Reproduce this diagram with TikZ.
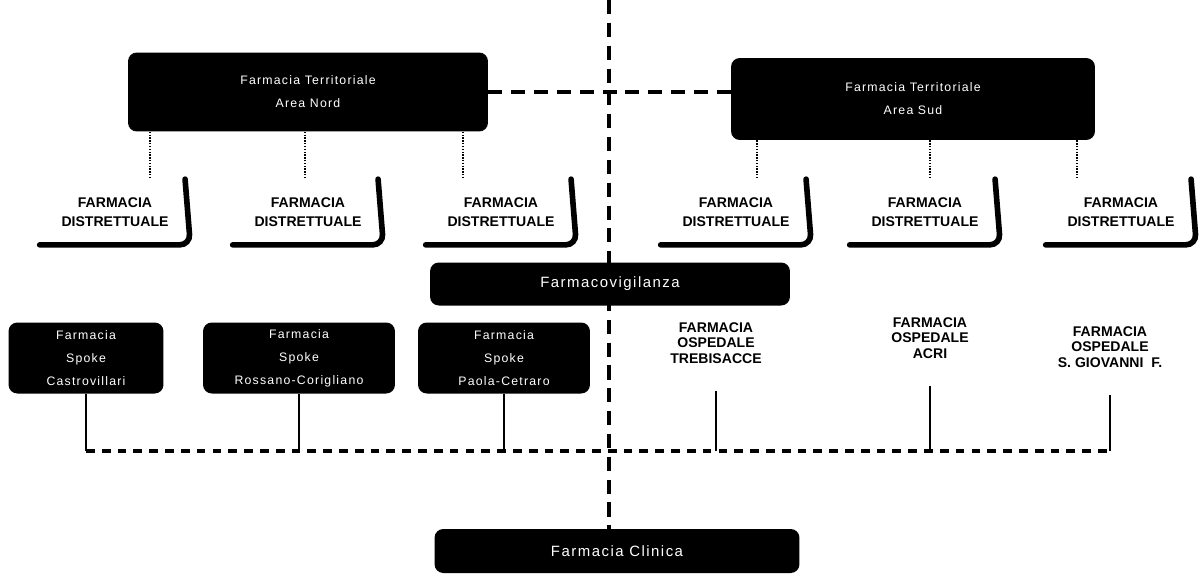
\documentclass[tikz,border=0pt]{standalone}
\usepackage{fontspec}
\setmainfont{Liberation Sans}
\newfontfamily\boxfont[LetterSpace=10]{Liberation Sans}
\usepackage{tikz}
\usetikzlibrary{positioning}

\begin{document}
\begin{tikzpicture}[
    x=0.02cm, y=-0.02cm,
    darkbox/.style={
        rectangle,
        rounded corners=5pt,
        fill=black,
        text=white,
        align=center,
        font=\boxfont\fontsize{7}{13}\selectfont
    },
    distrbox/.style={
        rectangle,
        minimum width=3cm,
        minimum height=1.3cm,
        align=center,
        font=\bfseries\fontsize{8}{11}\selectfont
    },
    ospbox/.style={
        align=center,
        font=\bfseries\fontsize{8}{9}\selectfont
    },
    shadowline/.style={
        line width=3.2pt,
        rounded corners=6pt,
        line cap=round
    },
    bigdash/.style={
        line width=2.2pt,
        dash pattern=on 8pt off 5pt
    },
    busdash/.style={
        line width=2.2pt,
        dash pattern=on 5pt off 4pt
    },
    dotline/.style={
        line width=1pt,
        dash pattern=on 0.8pt off 0.8pt
    },
    link/.style={
        line width=1pt
    }
]

\useasboundingbox[fill=white] (0,0) rectangle (1202,578);

\coordinate (axis) at (609,0);
\coordinate (bus) at (0,451);

% Farmacia Clinica (drawn first, axis ends on it)
\node[darkbox, minimum width=7.3cm, minimum height=0.88cm,
      font=\boxfont\fontsize{8.5}{10}\selectfont] (clinica) at (617,551)
{Farmacia Clinica};

\draw[bigdash]
(axis) -- (axis |- clinica.north);

% territorial pharmacies
\node[darkbox, minimum width=7.2cm, minimum height=1.58cm] (terrA) at (308,92)
{Farmacia Territoriale\\Area Nord};

\node[darkbox, minimum width=7.28cm, minimum height=1.64cm] (terrB) at (913,99)
{Farmacia Territoriale\\Area Sud};

\draw[bigdash]
(terrA.east) -- (terrA.east -| terrB.west);

% district pharmacies
\node[distrbox] (distA1) at (115,212)  {FARMACIA\\DISTRETTUALE};
\node[distrbox] (distA2) at (308,212)  {FARMACIA\\DISTRETTUALE};
\node[distrbox] (distA3) at (501,212)  {FARMACIA\\DISTRETTUALE};
\node[distrbox] (distB1) at (736,212)  {FARMACIA\\DISTRETTUALE};
\node[distrbox] (distB2) at (925,212)  {FARMACIA\\DISTRETTUALE};
\node[distrbox] (distB3) at (1121,212) {FARMACIA\\DISTRETTUALE};

\foreach \d in {distA1,distA2,distA3,distB1,distB2,distB3}
    \draw[shadowline] ([xshift=-3pt]\d.north east) -- (\d.south east) -- (\d.south west);

\draw[dotline] (terrA.south -| 150,0) -- (distA1.north -| 150,0);
\draw[dotline] (terrA.south -| 305,0) -- (distA2.north -| 305,0);
\draw[dotline] (terrA.south -| 463,0) -- (distA3.north -| 463,0);
\draw[dotline] (terrB.south -| 757,0) -- (distB1.north -| 757,0);
\draw[dotline] (terrB.south -| 930,0) -- (distB2.north -| 930,0);
\draw[dotline] (terrB.south -| 1077,0) -- (distB3.north -| 1077,0);

% pharmacovigilance
\node[darkbox, minimum width=7.2cm, minimum height=0.86cm,
      font=\boxfont\fontsize{8.5}{10}\selectfont] (vigil) at (610,284)
{Farmacovigilanza};

% spoke hospitals
\node[darkbox, minimum width=3.1cm, minimum height=1.42cm] (spoke1) at (86,358)
{Farmacia\\Spoke\\Castrovillari};

\node[darkbox, minimum width=3.84cm, minimum height=1.42cm] (spoke2) at (299,358)
{Farmacia\\Spoke\\Rossano-Corigliano};

\node[darkbox, minimum width=3.44cm, minimum height=1.42cm] (spoke3) at (504,358)
{Farmacia\\Spoke\\Paola-Cetraro};

% hospital pharmacies
\node[ospbox] (osp1) at (716,343)
{FARMACIA\\OSPEDALE\\TREBISACCE};

\node[ospbox] (osp2) at (930,338)
{FARMACIA\\OSPEDALE\\ACRI};

\node[ospbox] (osp3) at (1110,347)
{FARMACIA\\OSPEDALE\\S. GIOVANNI\ \ F.};

\foreach \s in {spoke1,spoke2,spoke3}
    \draw[link] (\s.south) -- (\s.south |- bus);

\foreach \o in {osp1,osp2,osp3}
    \draw[link] ([yshift=-12pt]\o.south) -- (\o.south |- bus);

\draw[busdash]
(spoke1.south |- bus) -- (osp3.south |- bus);

\end{tikzpicture}
\end{document}
